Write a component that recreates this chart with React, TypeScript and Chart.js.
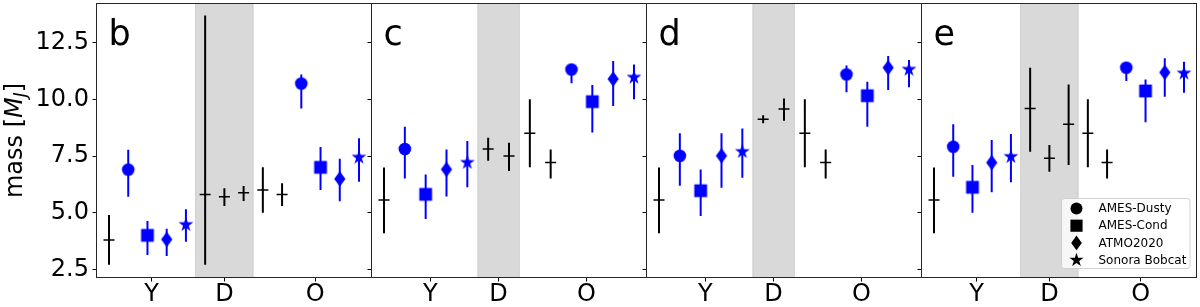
import React, { useEffect, useRef } from "react";
import { Chart, registerables } from "chart.js";
Chart.register(...registerables);

const FONT = '"DejaVu Sans", "Liberation Sans", sans-serif';
const BLUE = "#0000ff";

// ---------- data ----------
const categories = ["Y", "D", "O"];
const modelNames = ["AMES-Dusty", "AMES-Cond", "ATMO2020", "Sonora Bobcat"];
const modelShapes = ["circle", "square", "diamond", "star"];
const panelLetters = ["b", "c", "d", "e"];
const yTicks = [2.5, 5.0, 7.5, 10.0, 12.5];
const yLimits = [2.14, 14.23];

// panel b
const bBlackX = [0, 5, 6, 7, 8, 9];
const bBlackMass = [3.8, 5.8, 5.7, 5.88, 6.0, 5.8];
const bBlackLow = [2.7, 2.7, 5.3, 5.52, 5.0, 5.3];
const bBlackHigh = [4.9, 13.7, 6.08, 6.18, 7.0, 6.3];
const bModelXY = [1, 2, 3, 4];
const bModelXO = [10, 11, 12, 13];
const bModelMassY = [6.9, 4.0, 3.82, 4.47];
const bModelLowY = [5.7, 3.13, 3.09, 3.72];
const bModelHighY = [7.78, 4.63, 4.29, 5.15];
const bModelMassO = [10.7, 7.0, 6.49, 7.44];
const bModelLowO = [9.6, 6.0, 5.5, 6.37];
const bModelHighO = [11.1, 7.9, 7.38, 8.28];
const bCategoryTicks = [2.22, 6.0, 10.72];
const bBand = [4.5, 7.5];
const bXRange = [-0.65, 13.65];

// panel c
const cBlackX = [0, 5, 6, 7, 8];
const cBlackMass = [5.56, 7.81, 7.5, 8.5, 7.21];
const cBlackLow = [4.09, 7.29, 6.84, 7.0, 6.51];
const cBlackHigh = [6.99, 8.31, 8.09, 10.0, 7.79];
const cModelXY = [1, 2, 3, 4];
const cModelXO = [9, 10, 11, 12];
const cModelMassY = [7.81, 5.81, 6.91, 7.21];
const cModelLowY = [6.51, 4.72, 5.71, 6.12];
const cModelHighY = [8.79, 6.69, 7.79, 8.16];
const cModelMassO = [11.32, 9.9, 10.9, 10.97];
const cModelLowO = [10.71, 8.54, 9.71, 10.0];
const cModelHighO = [11.5, 10.63, 11.69, 11.54];
const cCategoryTicks = [2.22, 5.5, 9.72];
const cBand = [4.5, 6.5];
const cXRange = [-0.6, 12.6];

// panel d
const dBlackX = [0, 5, 6, 7, 8];
const dBlackMass = [5.56, 9.12, 9.57, 8.5, 7.21];
const dBlackLow = [4.09, 8.95, 9.06, 7.0, 6.51];
const dBlackHigh = [6.99, 9.3, 10.04, 10.0, 7.79];
const dModelXY = [1, 2, 3, 4];
const dModelXO = [9, 10, 11, 12];
const dModelMassY = [7.51, 5.97, 7.51, 7.69];
const dModelLowY = [6.19, 4.85, 6.1, 6.54];
const dModelHighY = [8.5, 6.91, 8.5, 8.72];
const dModelMassO = [11.1, 10.16, 11.4, 11.32];
const dModelLowO = [10.31, 8.79, 10.41, 10.53];
const dModelHighO = [11.49, 10.78, 11.91, 11.74];
const dCategoryTicks = [2.22, 5.5, 9.72];
const dBand = [4.5, 6.5];
const dXRange = [-0.6, 12.6];

// panel e
const eBlackX = [0, 5, 6, 7, 8, 9];
const eBlackMass = [5.56, 9.6, 7.4, 8.9, 8.5, 7.21];
const eBlackLow = [4.09, 7.69, 6.81, 7.1, 7.0, 6.51];
const eBlackHigh = [6.99, 11.4, 7.99, 10.66, 10.0, 7.79];
const eModelXY = [1, 2, 3, 4];
const eModelXO = [10, 11, 12, 13];
const eModelMassY = [7.91, 6.12, 7.21, 7.47];
const eModelLowY = [6.59, 5.0, 5.9, 6.34];
const eModelHighY = [8.9, 7.1, 8.21, 8.47];
const eModelMassO = [11.4, 10.37, 11.19, 11.15];
const eModelLowO = [10.81, 8.99, 10.12, 10.29];
const eModelHighO = [11.6, 10.88, 11.81, 11.66];
const eCategoryTicks = [2.22, 6.0, 10.75];
const eBand = [4.5, 7.5];
const eXRange = [-0.65, 13.65];

// ---------- layout ----------
const W = 1200;
const H = 307;
const AREA_TOP = 3.5;
const AREA_BOTTOM = 277.5;
const panelLefts = [96.5, 371.5, 646.5, 921.5];
const panelRights = [371.5, 646.5, 921.5, 1196.5];

const panels = [
  { xRange: bXRange, band: bBand, ticks: bCategoryTicks, bx: bBlackX, bm: bBlackMass, bl: bBlackLow, bh: bBlackHigh, xy: bModelXY, xo: bModelXO, my: bModelMassY, ly: bModelLowY, hy: bModelHighY, mo: bModelMassO, lo: bModelLowO, ho: bModelHighO },
  { xRange: cXRange, band: cBand, ticks: cCategoryTicks, bx: cBlackX, bm: cBlackMass, bl: cBlackLow, bh: cBlackHigh, xy: cModelXY, xo: cModelXO, my: cModelMassY, ly: cModelLowY, hy: cModelHighY, mo: cModelMassO, lo: cModelLowO, ho: cModelHighO },
  { xRange: dXRange, band: dBand, ticks: dCategoryTicks, bx: dBlackX, bm: dBlackMass, bl: dBlackLow, bh: dBlackHigh, xy: dModelXY, xo: dModelXO, my: dModelMassY, ly: dModelLowY, hy: dModelHighY, mo: dModelMassO, lo: dModelLowO, ho: dModelHighO },
  { xRange: eXRange, band: eBand, ticks: eCategoryTicks, bx: eBlackX, bm: eBlackMass, bl: eBlackLow, bh: eBlackHigh, xy: eModelXY, xo: eModelXO, my: eModelMassY, ly: eModelLowY, hy: eModelHighY, mo: eModelMassO, lo: eModelLowO, ho: eModelHighO },
];

// ---------- marker shapes ----------
function drawShape(ctx: CanvasRenderingContext2D, shape: string, x: number, y: number, color: string, scale = 1) {
  ctx.save();
  ctx.fillStyle = color;
  ctx.beginPath();
  if (shape === "circle") {
    ctx.arc(x, y, 6.3 * scale, 0, Math.PI * 2);
  } else if (shape === "square") {
    const s = 6.4 * scale;
    ctx.rect(x - s, y - s, 2 * s, 2 * s);
  } else if (shape === "diamond") {
    const hh = 7.8 * scale;
    const hw = 5.6 * scale;
    ctx.moveTo(x, y - hh);
    ctx.lineTo(x + hw, y);
    ctx.lineTo(x, y + hh);
    ctx.lineTo(x - hw, y);
    ctx.closePath();
  } else if (shape === "star") {
    const R = 7.8 * scale;
    const r = R * 0.382;
    for (let i = 0; i < 10; i++) {
      const a = -Math.PI / 2 + (i * Math.PI) / 5;
      const rr = i % 2 === 0 ? R : r;
      const px = x + rr * Math.cos(a);
      const py = y + rr * Math.sin(a);
      if (i === 0) ctx.moveTo(px, py);
      else ctx.lineTo(px, py);
    }
    ctx.closePath();
  }
  ctx.fill();
  ctx.restore();
}

function makeMarker(shape: string, color: string): HTMLCanvasElement {
  const c = document.createElement("canvas");
  c.width = 20;
  c.height = 20;
  const ctx = c.getContext("2d")!;
  drawShape(ctx, shape, 10, 10, color);
  return c;
}

function errorSegments(xs: number[], lows: number[], highs: number[]) {
  const out: { x: number; y: number | null }[] = [];
  xs.forEach((x, i) => {
    out.push({ x, y: lows[i] }, { x, y: highs[i] }, { x, y: null });
  });
  return out;
}

function zeroPadding(s: any) {
  s.paddingTop = 0;
  s.paddingBottom = 0;
  s.paddingLeft = 0;
  s.paddingRight = 0;
}

function buildConfig(p: any, idx: number, markers: HTMLCanvasElement[]): any {
  const datasets: any[] = [];
  modelNames.forEach((name, k) => {
    datasets.push({
      label: name,
      data: [
        { x: p.xy[k], y: p.my[k] },
        { x: p.xo[k], y: p.mo[k] },
      ],
      pointStyle: markers[k],
      pointRadius: 7,
      order: 0,
    });
  });
  datasets.push({
    label: "measurements",
    data: p.bx.map((x: number, i: number) => ({ x, y: p.bm[i] })),
    pointStyle: "line",
    pointRadius: 5.5,
    pointBorderWidth: 1.5,
    pointBorderColor: "#000",
    pointBackgroundColor: "#000",
    order: 0,
  });
  const blueErr: any[] = [];
  modelNames.forEach((_, k) => {
    blueErr.push(...errorSegments([p.xy[k], p.xo[k]], [p.ly[k], p.lo[k]], [p.hy[k], p.ho[k]]));
  });
  datasets.push({
    label: "model errors",
    data: blueErr,
    showLine: true,
    borderColor: BLUE,
    borderWidth: 2,
    pointRadius: 0,
    spanGaps: false,
    order: 1,
  });
  datasets.push({
    label: "measurement errors",
    data: errorSegments(p.bx, p.bl, p.bh),
    showLine: true,
    borderColor: "#000",
    borderWidth: 2,
    pointRadius: 0,
    spanGaps: false,
    order: 1,
  });

  const left = panelLefts[idx];
  const right = panelRights[idx];

  const decor = {
    id: "decor" + idx,
    beforeDatasetsDraw(chart: any) {
      const { ctx, chartArea: a, scales } = chart;
      const x0 = scales.x.getPixelForValue(p.band[0]);
      const x1 = scales.x.getPixelForValue(p.band[1]);
      ctx.save();
      ctx.fillStyle = "rgba(128,128,128,0.3)";
      ctx.fillRect(x0, a.top, x1 - x0, a.bottom - a.top);
      ctx.strokeStyle = "rgba(128,128,128,0.25)";
      ctx.lineWidth = 1;
      ctx.beginPath();
      ctx.moveTo(x0, a.top);
      ctx.lineTo(x0, a.bottom);
      ctx.moveTo(x1, a.top);
      ctx.lineTo(x1, a.bottom);
      ctx.stroke();
      ctx.restore();
    },
    afterDraw(chart: any) {
      const { ctx, chartArea: a } = chart;
      ctx.save();
      ctx.strokeStyle = "#262626";
      ctx.lineWidth = 1;
      ctx.strokeRect(a.left, a.top, a.right - a.left, a.bottom - a.top);
      ctx.fillStyle = "#000";
      ctx.font = `35px ${FONT}`;
      ctx.textBaseline = "alphabetic";
      ctx.textAlign = "left";
      ctx.fillText(panelLetters[idx], a.left + 12, 45);

      if (idx === 0) {
        const parts = [
          { t: "mass [", font: `24px ${FONT}`, dy: 0 },
          { t: "M", font: `italic 24px ${FONT}`, dy: 0 },
          { t: "J", font: `italic 16.8px ${FONT}`, dy: 4 },
          { t: "]", font: `24px ${FONT}`, dy: 0 },
        ];
        let total = 0;
        parts.forEach((pt) => {
          ctx.font = pt.font;
          total += ctx.measureText(pt.t).width;
        });
        const cy = (a.top + a.bottom) / 2;
        ctx.translate(22, cy + total / 2);
        ctx.rotate(-Math.PI / 2);
        let cx = 0;
        parts.forEach((pt) => {
          ctx.font = pt.font;
          ctx.fillText(pt.t, cx, pt.dy);
          cx += ctx.measureText(pt.t).width;
        });
        ctx.setTransform(1, 0, 0, 1, 0, 0);
      }

      if (idx === 3) {
        const bx0 = a.right - 135;
        const by0 = a.bottom - 79;
        const bw = 128.5;
        const bh = 70;
        const r = 3;
        ctx.beginPath();
        ctx.moveTo(bx0 + r, by0);
        ctx.lineTo(bx0 + bw - r, by0);
        ctx.arcTo(bx0 + bw, by0, bx0 + bw, by0 + r, r);
        ctx.lineTo(bx0 + bw, by0 + bh - r);
        ctx.arcTo(bx0 + bw, by0 + bh, bx0 + bw - r, by0 + bh, r);
        ctx.lineTo(bx0 + r, by0 + bh);
        ctx.arcTo(bx0, by0 + bh, bx0, by0 + bh - r, r);
        ctx.lineTo(bx0, by0 + r);
        ctx.arcTo(bx0, by0, bx0 + r, by0, r);
        ctx.closePath();
        ctx.fillStyle = "rgba(255,255,255,0.8)";
        ctx.fill();
        ctx.strokeStyle = "rgba(204,204,204,0.9)";
        ctx.lineWidth = 1;
        ctx.stroke();
        modelNames.forEach((name, k) => {
          const yy = by0 + 10 + k * 17.2;
          drawShape(ctx, modelShapes[k], bx0 + 15, yy, "#000", 0.95);
          ctx.fillStyle = "#000";
          ctx.font = `12px ${FONT}`;
          ctx.textBaseline = "middle";
          ctx.textAlign = "left";
          ctx.fillText(name, bx0 + 37, yy + 0.5);
        });
      }
      ctx.restore();
    },
  };

  return {
    type: "scatter",
    data: { datasets },
    options: {
      animation: false,
      responsive: false,
      events: [],
      layout: { autoPadding: false, padding: { left: 0, right: W - right, top: AREA_TOP, bottom: 0 } },
      plugins: { legend: { display: false }, tooltip: { enabled: false } },
      scales: {
        x: {
          type: "linear",
          position: "bottom",
          min: p.xRange[0],
          max: p.xRange[1],
          afterFit: (s: any) => {
            s.height = H - AREA_BOTTOM;
            zeroPadding(s);
          },
          afterBuildTicks: (s: any) => {
            s.ticks = p.ticks.map((v: number) => ({ value: v }));
          },
          ticks: {
            autoSkip: false,
            maxRotation: 0,
            minRotation: 0,
            padding: 1,
            color: "#000",
            font: { family: FONT, size: 24, lineHeight: 1 },
            callback: (_v: any, i: number) => categories[i],
          },
          grid: { drawOnChartArea: false, drawTicks: true, tickLength: 4, color: "#000", lineWidth: 1 },
          border: { display: false },
        },
        y: {
          type: "linear",
          position: "left",
          min: yLimits[0],
          max: yLimits[1],
          afterFit: (s: any) => {
            s.width = left;
            zeroPadding(s);
          },
          afterBuildTicks: (s: any) => {
            s.ticks = yTicks.map((v) => ({ value: v }));
          },
          ticks: {
            display: idx === 0,
            padding: 3.5,
            color: "#000",
            font: { family: FONT, size: 24 },
            callback: (v: any) => Number(v).toFixed(1),
          },
          grid: { drawOnChartArea: false, drawTicks: true, tickLength: 4, color: "#000", lineWidth: 1 },
          border: { display: false },
        },
      },
    },
    plugins: [decor],
  };
}

export default function App() {
  const refs = useRef<(HTMLCanvasElement | null)[]>([]);
  useEffect(() => {
    const markers = modelShapes.map((s) => makeMarker(s, BLUE));
    const charts = panels.map((p, i) => new Chart(refs.current[i] as HTMLCanvasElement, buildConfig(p, i, markers)));
    return () => {
      charts.forEach((c) => c.destroy());
    };
  }, []);
  return (
    <div style={{ position: "fixed", left: 0, top: 0, width: W, height: H, background: "#fff" }}>
      {panels.map((_, i) => (
        <canvas
          key={i}
          ref={(el) => {
            refs.current[i] = el;
          }}
          width={W}
          height={H}
          style={{ position: "absolute", left: 0, top: 0, width: W, height: H, display: "block" }}
        />
      ))}
    </div>
  );
}
